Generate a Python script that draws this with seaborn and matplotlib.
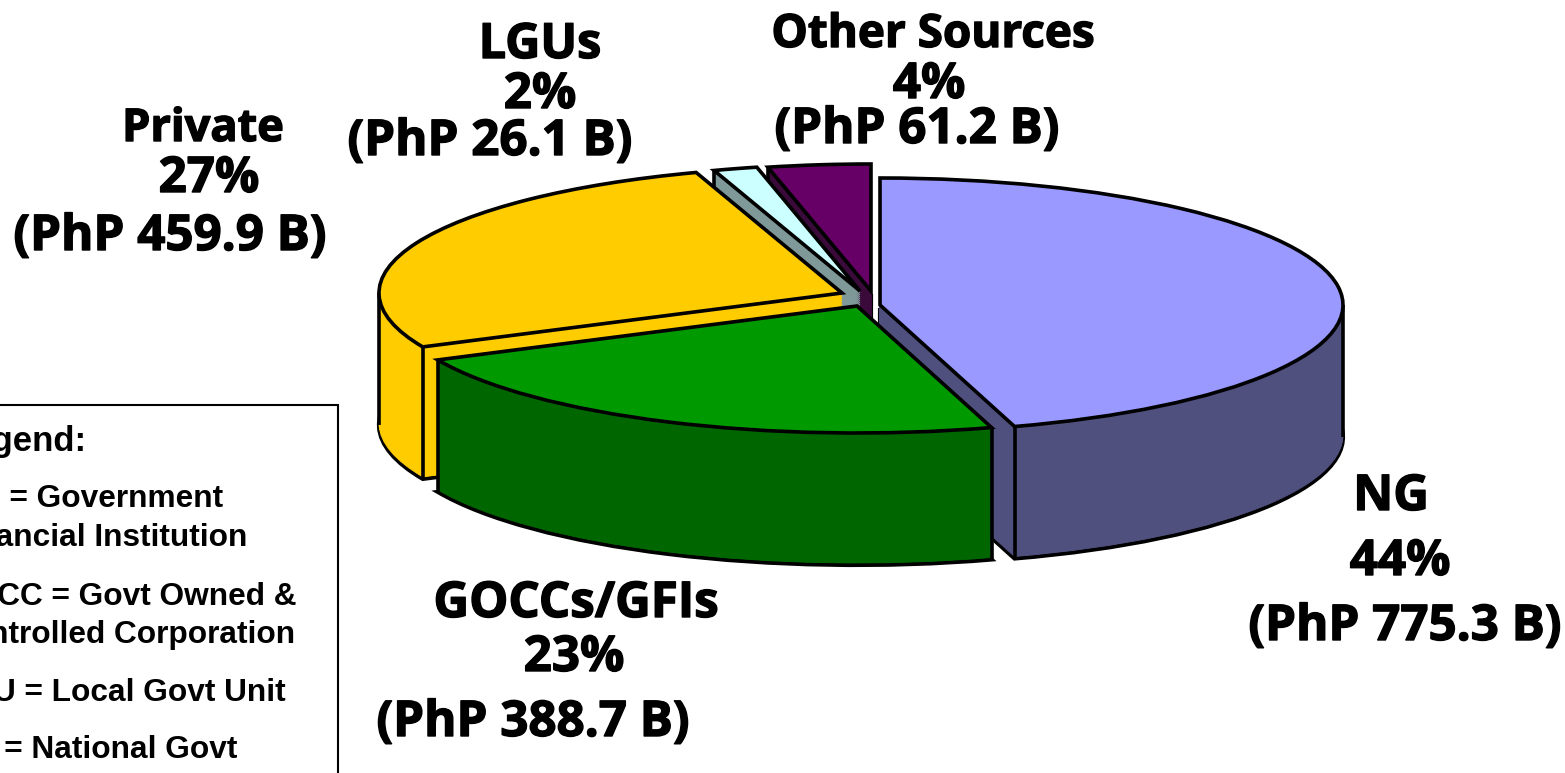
import numpy as np
import matplotlib
matplotlib.use("Agg")
import matplotlib.pyplot as plt
import matplotlib.patheffects as pe
from matplotlib.patches import Rectangle
import seaborn as sns

# ---- data ----
names = ["NG", "GOCCs/GFIs", "Private", "LGUs", "Other Sources"]
amounts = [775.3, 388.7, 459.9, 26.1, 61.2]
percents = [44, 23, 27, 2, 4]
top_colors = ["#9999FF", "#009900", "#FFCC00", "#CCFFFF", "#660066"]
wall_colors = ["#50507F", "#006600", "#FFCC00", "#7F9999", "#3A0A3A"]
legend_lines = ["Legend:", "GFI = Government", "Financial Institution",
                "GOCC = Govt Owned &", "Controlled Corporation",
                "LGU = Local Govt Unit", "NG = National Govt"]

# ---- layout (pixels) ----
W, H = 1565, 773
R, RY, DEPTH = 463, 127, 132
SQ = RY / R
slice_centres = [(880, 305), (857, 306), (842, 293), (860, 291), (871, 291)]
draw_order = [4, 3, 2, 0, 1]
label_pos = {
    0: [(1391, 510), (1400, 575), (1405, 640)],
    1: [(576, 617), (574, 671), (533, 736)],
    2: [(203, 141), (209, 192), (170, 250)],
    3: [(540, 58), (540, 108), (490, 155)],
    4: [(933, 47), (929, 98), (917, 143)],
}
name_size = {0: 35.5, 1: 35.5, 2: 32.5, 3: 35, 4: 33}
legend_right = [87, 223, 247, 297, 295, 286, 237]
legend_y = [442, 499, 538, 597, 635, 693, 750]

sns.set_theme(style="white")
fig = plt.figure(figsize=(W / 100, H / 100), dpi=100, facecolor="white")
ax = fig.add_axes([0, 0, 1, 1])


def py(y):
    return (H - y) / SQ


total = sum(amounts)
starts = 90 - np.cumsum([0] + amounts[:-1]) / total * 360
z = 1


def slice_pie(i, cx, cy, face, edge, lw):
    global z
    w, _ = ax.pie([amounts[i] / total], normalize=False, startangle=starts[i],
                  counterclock=False, radius=R, center=(cx, cy), colors=[face],
                  wedgeprops=dict(edgecolor=edge, linewidth=lw, zorder=z))
    z += 1
    return w


for i in draw_order:
    cx, cy_px = slice_centres[i]
    t_start = starts[i]
    t_end = t_start - amounts[i] / total * 360
    # lower rim, with its outline
    slice_pie(i, cx, py(cy_px + DEPTH), wall_colors[i], "black", 3.0)
    # body of the slice, stacked upwards
    for d in range(DEPTH - 2, 0, -2):
        slice_pie(i, cx, py(cy_px + d), wall_colors[i], wall_colors[i], 0.6)
    # vertical edges that face the viewer
    angles = []
    s, c = np.sin(np.radians(t_start)), np.cos(np.radians(t_start))
    if s < 0 or c < -1e-6:
        angles.append(t_start)
    s, c = np.sin(np.radians(t_end)), np.cos(np.radians(t_end))
    if s < 0 or c > 1e-6:
        angles.append(t_end)
    for a in (0, -180, 180):
        if t_end <= a <= t_start:
            angles.append(a)
    xs = [cx + R * np.cos(np.radians(a)) for a in angles]
    y0 = [cy_px - RY * np.sin(np.radians(a)) for a in angles]
    if xs:
        ax.vlines(xs, [py(v) for v in y0], [py(v + DEPTH) for v in y0],
                  colors="black", linewidth=2.6, zorder=z)
    z += 1
    # upper surface
    slice_pie(i, cx, py(cy_px), top_colors[i], "black", 2.6)

# slice labels
heavy = [pe.withStroke(linewidth=1.0, foreground="black")]
for i, pos in label_pos.items():
    lines = [names[i], f"{percents[i]}%", f"(PhP {amounts[i]} B)"]
    sizes = [name_size[i], 35.5, 35.5]
    for s, (x, y), fs in zip(lines, pos, sizes):
        ax.text(x, py(y), s, ha="center", va="baseline", fontsize=fs,
                fontweight="bold", family="Open Sans", color="black",
                zorder=z + 2, path_effects=heavy)

# legend box
ax.add_patch(Rectangle((-10, py(H + 20)), 348, py(405) - py(H + 20), facecolor="white",
                       edgecolor="black", linewidth=1.5, zorder=z))
for j, (s, xr, y) in enumerate(zip(legend_lines, legend_right, legend_y)):
    ax.text(xr, py(y), s, ha="right", va="center", family="Liberation Sans",
            fontweight="bold", fontsize=25 if j == 0 else 22.8, color="black", zorder=z + 2)

ax.set_aspect("auto")
ax.set_xlim(0, W)
ax.set_ylim(0, H / SQ)
ax.axis("off")
fig.savefig("out.png", dpi=100, facecolor="white")
